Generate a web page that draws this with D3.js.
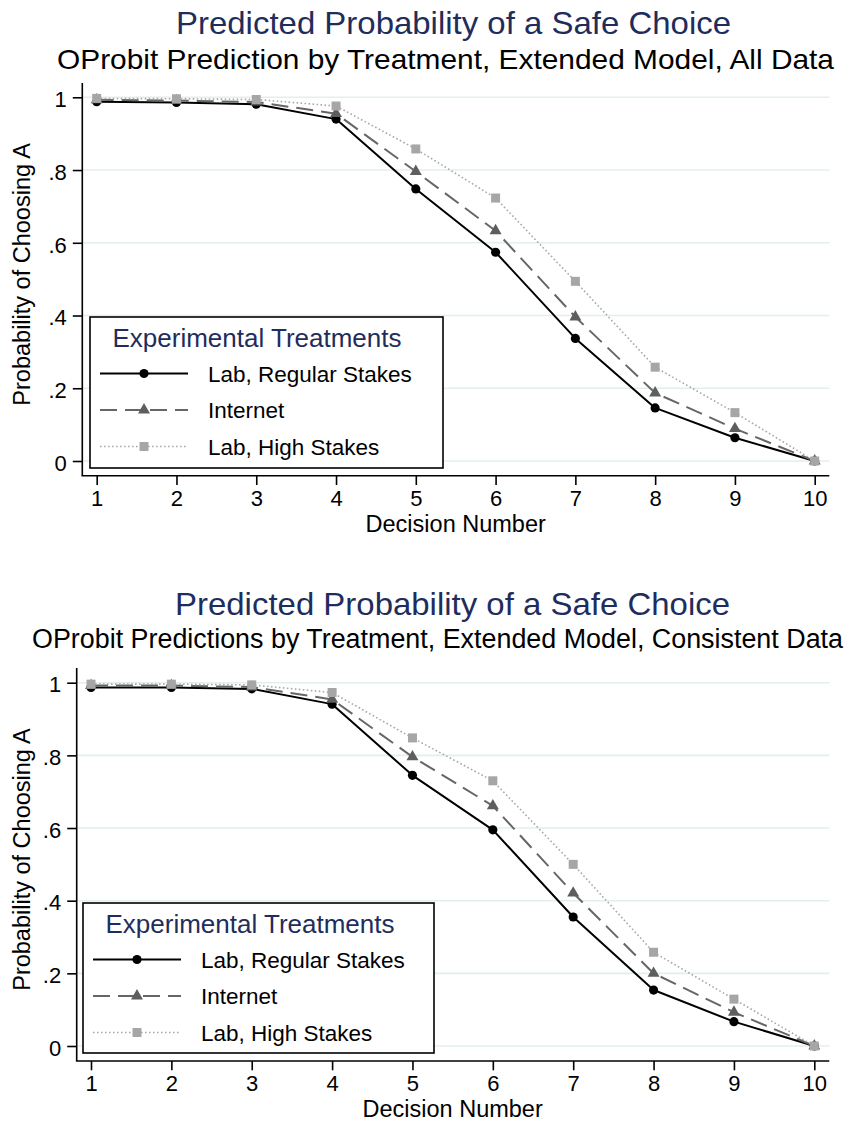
<!DOCTYPE html>
<html>
<head>
<meta charset="utf-8">
<script src="https://cdn.jsdelivr.net/npm/d3@7/dist/d3.min.js"></script>
<style>
  html, body { margin: 0; padding: 0; background: #fff; }
  svg { display: block; font-family: "Liberation Sans", Arial, Helvetica, sans-serif; }
</style>
</head>
<body>
<svg id="chart" width="847" height="1124"></svg>
<script>
// Decision numbers on the horizontal axis
const decisions = [1, 2, 3, 4, 5, 6, 7, 8, 9, 10];

// Treatment names shown in the legend
const seriesNames = ["Lab, Regular Stakes", "Internet", "Lab, High Stakes"];

// Predicted probability of choosing A — all data
const labRegularAll = [0.988, 0.986, 0.981, 0.940, 0.748, 0.574, 0.337, 0.146, 0.064, 0.000];
const internetAll   = [0.993, 0.991, 0.987, 0.955, 0.796, 0.633, 0.396, 0.187, 0.089, 0.000];
const labHighAll    = [0.997, 0.996, 0.994, 0.976, 0.858, 0.723, 0.494, 0.258, 0.133, 0.000];

// Predicted probability of choosing A — consistent data
const labRegularCons = [0.987, 0.987, 0.983, 0.941, 0.745, 0.595, 0.355, 0.154, 0.067, 0.000];
const internetCons   = [0.992, 0.992, 0.988, 0.954, 0.796, 0.661, 0.421, 0.200, 0.093, 0.000];
const labHighCons    = [0.996, 0.996, 0.994, 0.973, 0.848, 0.730, 0.500, 0.258, 0.129, 0.000];

// Axis ticks
const yTicks = [0, 0.2, 0.4, 0.6, 0.8, 1];
const yTickLabels = ["0", ".2", ".4", ".6", ".8", "1"];
const xTicks = decisions;

// Titles
const mainTitle = "Predicted Probability of a Safe Choice";
const subtitles = [
  "OProbit Prediction by Treatment, Extended Model, All Data",
  "OProbit Predictions by Treatment, Extended Model, Consistent Data"
];
const legendTitle = "Experimental Treatments";
const xTitle = "Decision Number";
const yTitle = "Probability of Choosing A";

// Line / marker styling per treatment
const styles = [
  { stroke: "#000000", width: 2,   dash: null,      fill: "#000000", symbol: d3.symbolCircle,   size: 66 },
  { stroke: "#666666", width: 2,   dash: "17,8",    fill: "#5e5e5e", symbol: d3.symbolTriangle, size: 62 },
  { stroke: "#a8a8a8", width: 1.6, dash: "1.6,2.4", fill: "#a6a6a6", symbol: d3.symbolSquare,   size: 81 }
];

const TITLE_COLOR = "#1f2d5c";
const GRID_COLOR = "#e3eef0";

// Layout of the two stacked panels
const panels = [
  {
    series: [labRegularAll, internetAll, labHighAll],
    subtitle: subtitles[0],
    titleX: 453.5, titleY: 34, titleSize: 32, titleLen: 555,
    subX: 445.5, subY: 69, subSize: 28.5, subLen: 777,
    left: 82.3, right: 829.3, top: 83, bottom: 475.7,
    xRange: [96.7, 814.7], yRange: [461, 97.3],
    legend: { x: 90, y: 317, w: 353, h: 151 }
  },
  {
    series: [labRegularCons, internetCons, labHighCons],
    subtitle: subtitles[1],
    titleX: 452.5, titleY: 615, titleSize: 32, titleLen: 555,
    subX: 437.5, subY: 648, subSize: 27, subLen: 811,
    left: 76.7, right: 829.3, top: 668, bottom: 1061,
    xRange: [91, 814.3], yRange: [1046, 682.7],
    legend: { x: 83, y: 903, w: 351, h: 150 }
  }
];

const svg = d3.select("#chart");

function drawPanel(p) {
  const g = svg.append("g");
  const x = d3.scaleLinear().domain([1, 10]).range(p.xRange);
  const y = d3.scaleLinear().domain([0, 1]).range(p.yRange);

  // Titles
  g.append("text")
    .attr("x", p.titleX).attr("y", p.titleY)
    .attr("text-anchor", "middle")
    .attr("font-size", p.titleSize).attr("fill", TITLE_COLOR)
    .attr("textLength", p.titleLen).attr("lengthAdjust", "spacingAndGlyphs")
    .text(mainTitle);
  g.append("text")
    .attr("x", p.subX).attr("y", p.subY)
    .attr("text-anchor", "middle")
    .attr("font-size", p.subSize).attr("fill", "#000")
    .attr("textLength", p.subLen).attr("lengthAdjust", "spacingAndGlyphs")
    .text(p.subtitle);

  // Grid lines
  g.append("g").selectAll("line").data(yTicks).join("line")
    .attr("x1", p.left).attr("x2", p.right)
    .attr("y1", d => y(d)).attr("y2", d => y(d))
    .attr("stroke", GRID_COLOR).attr("stroke-width", 1.6);

  // Y axis
  const yAxis = d3.axisLeft(y).tickValues(yTicks)
    .tickFormat((d, i) => yTickLabels[i]).tickSize(9.5).tickPadding(6);
  const ya = g.append("g").attr("transform", `translate(${p.left},0)`).call(yAxis);
  ya.select(".domain").remove();
  ya.append("line").attr("x1", 0).attr("x2", 0).attr("y1", p.top).attr("y2", p.bottom)
    .attr("stroke", "#000").attr("stroke-width", 1.6);
  ya.selectAll(".tick line").attr("stroke", "#000").attr("stroke-width", 1.6);
  ya.selectAll(".tick text").attr("font-size", 22).attr("fill", "#000")
    .attr("font-family", "Liberation Sans, Arial, sans-serif").attr("dy", "0.42em");

  // X axis
  const xAxis = d3.axisBottom(x).tickValues(xTicks)
    .tickFormat(d3.format("d")).tickSize(9.3).tickPadding(5.5);
  const xa = g.append("g").attr("transform", `translate(0,${p.bottom})`).call(xAxis);
  xa.select(".domain").remove();
  xa.append("line").attr("x1", p.left - 0.8).attr("x2", p.right).attr("y1", 0).attr("y2", 0)
    .attr("stroke", "#000").attr("stroke-width", 1.6);
  xa.selectAll(".tick line").attr("stroke", "#000").attr("stroke-width", 1.6);
  xa.selectAll(".tick text").attr("font-size", 22).attr("fill", "#000")
    .attr("font-family", "Liberation Sans, Arial, sans-serif");

  // Axis titles
  g.append("text")
    .attr("x", (p.xRange[0] + p.xRange[1]) / 2).attr("y", p.bottom + 56)
    .attr("text-anchor", "middle").attr("font-size", 23.5).attr("fill", "#000")
    .text(xTitle);
  g.append("text")
    .attr("transform", `translate(30,${(p.top + p.bottom) / 2 - 5}) rotate(-90)`)
    .attr("text-anchor", "middle").attr("font-size", 23.5).attr("fill", "#000")
    .text(yTitle);

  // Series lines and markers
  const line = d3.line().x((d, i) => x(decisions[i])).y(d => y(d));
  p.series.forEach((vals, si) => {
    const st = styles[si];
    g.append("path").datum(vals)
      .attr("d", line).attr("fill", "none")
      .attr("stroke", st.stroke).attr("stroke-width", st.width)
      .attr("stroke-dasharray", st.dash)
      .attr("stroke-linejoin", "round");
    g.append("g").selectAll("path").data(vals).join("path")
      .attr("transform", (d, i) => `translate(${x(decisions[i])},${y(d)})`)
      .attr("d", d3.symbol().type(st.symbol).size(st.size))
      .attr("fill", st.fill);
  });

  // Legend
  const L = p.legend;
  const lg = g.append("g").attr("transform", `translate(${L.x},${L.y})`);
  lg.append("rect").attr("width", L.w).attr("height", L.h)
    .attr("fill", "#fff").attr("stroke", "#000").attr("stroke-width", 1.6);
  lg.append("text").attr("x", 167).attr("y", 30)
    .attr("text-anchor", "middle").attr("font-size", 26).attr("fill", TITLE_COLOR)
    .text(legendTitle);
  const rowY = [56.5, 93, 129.5];
  seriesNames.forEach((name, si) => {
    const st = styles[si];
    const ry = rowY[si];
    lg.append("line").attr("x1", 10).attr("x2", 98).attr("y1", ry).attr("y2", ry)
      .attr("stroke", st.stroke).attr("stroke-width", st.width)
      .attr("stroke-dasharray", st.dash);
    lg.append("path").attr("transform", `translate(54,${ry})`)
      .attr("d", d3.symbol().type(st.symbol).size(st.size)).attr("fill", st.fill);
    lg.append("text").attr("x", 118).attr("y", ry + 8.3)
      .attr("font-size", 22.5).attr("fill", "#000").text(name);
  });
}

panels.forEach(drawPanel);
</script>
</body>
</html>
